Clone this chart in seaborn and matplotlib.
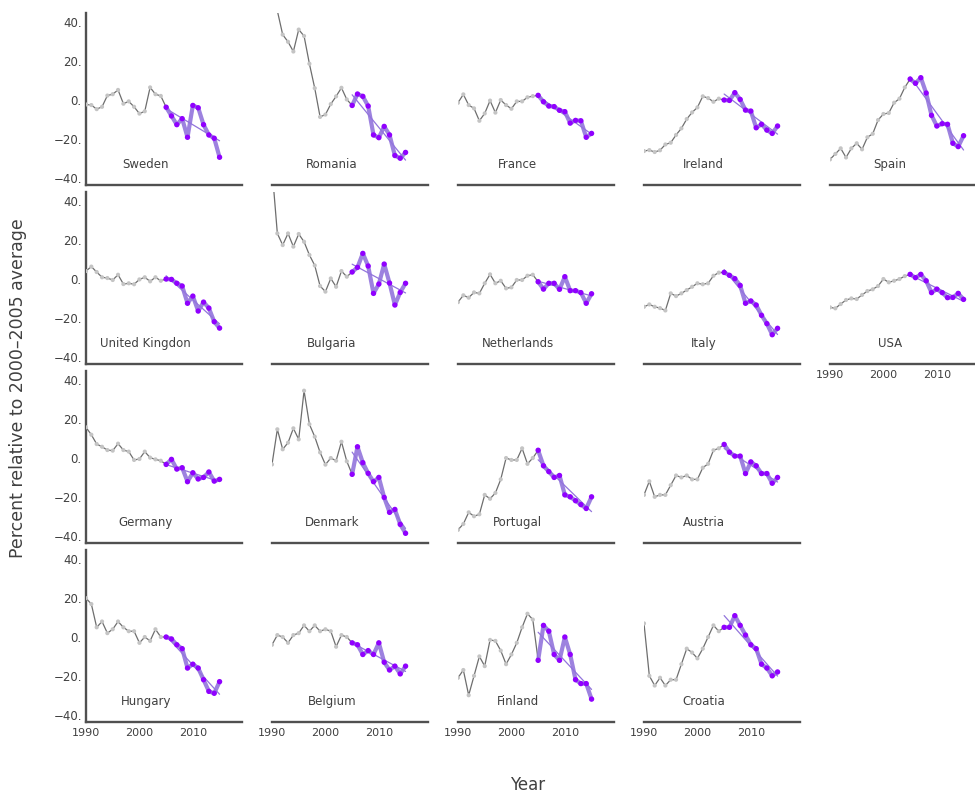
import numpy as np
import pandas as pd
import matplotlib
matplotlib.use('Agg')
import matplotlib.pyplot as plt
from matplotlib.ticker import FuncFormatter
import seaborn as sns

# --- data: percent relative to 2000-2005 average, 1990..2015 ---
years = list(range(1990, 2016))

sweden = [-2.3, -2.6, -4.7, -3.5, 2.3, 3.0, 5.2, -1.9, -0.7, -3.5, -7.0, -5.8, 6.5, 3.0, 2.1,
          -3.7, -8.2, -12.7, -9.6, -19.2, -2.8, -4.0, -12.7, -18.0, -19.7, -29.5]
romania = [55, 46, 33.7, 30, 25, 36.3, 33, 18.7, 6.1, -8.7, -7.5, -2.1, 1.9, 6.3, 0.3,
           -2.8, 3.1, 1.9, -3.1, -18, -19.4, -13.6, -18, -28.6, -30, -27]
france = [-1.4, 2.9, -2.6, -4.3, -10.7, -6.9, -0.3, -6.5, 0, -2.6, -4.5, -0.7, -0.7, 1.4, 2.0,
          2.4, -0.9, -3.1, -3.4, -5.3, -6.0, -11.9, -10.5, -10.7, -19.2, -17.2]
ireland = [-26.3, -25.8, -26.8, -25.9, -22.9, -22, -18, -14.6, -9.8, -6.4, -3.8, 1.9, 1.0, -0.9, 0.7,
           0, -0.2, 3.8, 0.3, -5.2, -5.7, -14.3, -12.5, -15.5, -17.2, -13.4]
spain = [-30.6, -27.8, -24.9, -29.6, -24.9, -22.3, -25.4, -19.2, -17.4, -10.3, -7.2, -6.7, -1.4, 0.7, 6.5,
         10.8, 8.6, 11.5, 3.6, -7.9, -13.4, -12.2, -12.5, -22.3, -24, -18.4]
uk = [4.1, 6.4, 3.6, 0.9, 0.5, -0.5, 2.2, -2.6, -2.2, -2.7, -0.2, 0.9, -1.2, 0.9, -0.9,
      0, -0.2, -2.2, -3.6, -12.5, -8.8, -16.5, -11.9, -15, -22, -25.3]
bulgaria = [57, 23.5, 17.5, 23.5, 16.7, 23.2, 19.2, 12.4, 7, -3.6, -6.5, 0.3, -4, 4.1, 1.2,
            3.6, 6, 13.2, 6.7, -7.4, -2.6, 7.7, -2.1, -13.4, -6.9, -2.2]
netherlands = [-11.9, -8.4, -9.6, -6.9, -7.4, -2.2, 2.4, -2.2, -0.9, -4.8, -4.3, -0.5, -0.5, 1.7, 2.2,
               -1.4, -5.2, -2.2, -2.2, -5.3, 1.2, -6, -6, -7, -12.5, -7.6]
italy = [-14.3, -13.1, -14.3, -15, -16.2, -7.4, -8.8, -7.4, -5.7, -4, -2.2, -2.7, -2.2, 1.7, 3.3,
         3.4, 1.9, 0.2, -3.3, -12.5, -11.3, -13.4, -18.7, -23, -28.7, -25.4]
usa = [-14.6, -15.1, -12.9, -10.8, -10, -10.3, -8.2, -6.2, -5.3, -3.6, 0, -1.7, -0.9, 0, 1.5,
       2.4, 0.7, 2.4, -0.9, -7, -5.2, -7, -9.6, -9.5, -7.4, -10.5]
germany = [15.8, 12, 7.2, 5.8, 4.1, 3.8, 7.4, 4.1, 3.3, -1, -0.5, 3.3, 0.2, -0.7, -1.4,
           -3.3, -0.7, -5.7, -5, -12.2, -7.6, -10.8, -10, -7.2, -11.9, -11]
denmark = [-3.3, 14.8, 4.5, 7.9, 15.3, 9.6, 34.7, 17.4, 11, 2.9, -3.4, 0, -1.4, 8.4, -1.7,
           -8.4, 5.8, -2.4, -7.9, -12.2, -10, -20.3, -28, -26.5, -34.2, -38.8]
portugal = [-37, -34, -28, -30, -29, -19, -21, -18, -11, 0, -1, -1, 5, -3, 0,
            4, -4, -7, -10, -9, -19, -20, -22, -24, -26, -20]
austria = [-19, -12, -20, -19, -19, -14, -9, -10, -9, -11, -11, -5, -3, 4, 5,
           7, 3, 1, 1, -8, -2, -4, -8, -8, -13, -10]
hungary = [20, 17, 5, 8, 2, 4, 8, 5, 3, 3, -3, 0, -2, 4, 0,
           0, -1, -4, -6, -16, -14, -16, -22, -28, -29, -23]
belgium = [-4, 1, 0, -3, 1, 2, 6, 3, 6, 3, 4, 3, -5, 1, 0,
           -3, -4, -9, -7, -9, -3, -13, -17, -15, -19, -15]
finland = [-21, -17, -30, -20, -10, -15, -1.5, -2, -7, -14, -9, -3, 5, 12, 9,
           -12, 6, 3, -9, -12, 0, -9, -22, -24, -24, -32]
croatia = [7, -20, -25, -21, -25, -22, -22, -14, -6, -8, -11, -6, 0, 6, 3,
           5, 5, 11, 6, 1, -4, -6, -14, -16, -20, -18]

countries = ["Sweden", "Romania", "France", "Ireland", "Spain",
             "United Kingdon", "Bulgaria", "Netherlands", "Italy", "USA",
             "Germany", "Denmark", "Portugal", "Austria",
             "Hungary", "Belgium", "Finland", "Croatia"]
series = [sweden, romania, france, ireland, spain,
          uk, bulgaria, netherlands, italy, usa,
          germany, denmark, portugal, austria,
          hungary, belgium, finland, croatia]
# grid slot (row, col) of every panel
slots = [(0, 0), (0, 1), (0, 2), (0, 3), (0, 4),
         (1, 0), (1, 1), (1, 2), (1, 3), (1, 4),
         (2, 0), (2, 1), (2, 2), (2, 3),
         (3, 0), (3, 1), (3, 2), (3, 3)]

yticks = [-40, -20, 0, 20, 40]
xticks = [1990, 2000, 2010]

# --- style ---
GREY_LINE = '#6e6e6e'
GREY_DOT = '#c4c4c4'
PURPLE_LINE = '#9274dc'
PURPLE_DOT = '#9000ff'
AXIS = '#505050'
TEXT = '#404040'

sns.set_style('white')
plt.rcParams['font.family'] = ['DejaVu Sans']

W, H = 975, 794
fig = plt.figure(figsize=(W / 100, H / 100), dpi=100)

fmt = FuncFormatter(lambda v, p: f"{v:.0f}.".replace('-', '\u2212'))

for name, vals, (r, c) in zip(countries, series, slots):
    left = 86 + 186 * c
    bottom = 185.4 + 179 * r
    ax = fig.add_axes([left / W, 1 - bottom / H, 156 / W, 172.7 / H])

    df = pd.DataFrame({'year': years, 'value': vals})
    early = df[df['year'] <= 2005]
    late = df[df['year'] >= 2005]

    sns.lineplot(data=early, x='year', y='value', color=GREY_LINE, lw=0.9, ax=ax)
    sns.scatterplot(data=early, x='year', y='value', color=GREY_DOT, s=9,
                    edgecolor='none', ax=ax, zorder=3)
    sns.lineplot(data=late, x='year', y='value', color=PURPLE_LINE, lw=3.0,
                 alpha=0.9, ax=ax, zorder=4)
    sns.regplot(data=late, x='year', y='value', scatter=False, ci=None,
                color=PURPLE_LINE, line_kws={'lw': 0.9, 'zorder': 5}, ax=ax)
    sns.scatterplot(data=late, x='year', y='value', color=PURPLE_DOT, s=15,
                    edgecolor='none', ax=ax, zorder=6)

    ax.text(2001.2, -33, name, ha='center', va='center', fontsize=8.5, color=TEXT)

    ax.set_xlim(1990, 2019.2)
    ax.set_ylim(-44, 45)
    ax.set_xlabel('')
    ax.set_ylabel('')
    ax.set_facecolor('none')

    for s in ['top', 'right']:
        ax.spines[s].set_visible(False)
    ax.spines['bottom'].set_color(AXIS)
    ax.spines['bottom'].set_linewidth(1.7)

    ax.set_xticks(xticks)
    show_x = (r == 3) or (name == "USA")
    ax.tick_params(axis='x', direction='in', length=4, width=1.2, color=AXIS,
                   labelsize=8, labelcolor=TEXT, pad=4, labelbottom=show_x)

    if c == 0:
        ax.spines['left'].set_color(AXIS)
        ax.spines['left'].set_linewidth(1.7)
        ax.set_yticks(yticks)
        ax.yaxis.set_major_formatter(fmt)
        ax.tick_params(axis='y', direction='in', length=4, width=1.2, color=AXIS,
                       labelsize=8.5, labelcolor=TEXT, pad=3)
    else:
        ax.spines['left'].set_visible(False)
        ax.set_yticks([])

fig.text(18 / W, 1 - 388 / H, 'Percent relative to 2000\u20132005 average', rotation=90,
         ha='center', va='center', fontsize=12.5, color=TEXT)
fig.text(528 / W, 1 - 785 / H, 'Year', ha='center', va='center', fontsize=12, color=TEXT)

fig.savefig('out.png', dpi=100)
